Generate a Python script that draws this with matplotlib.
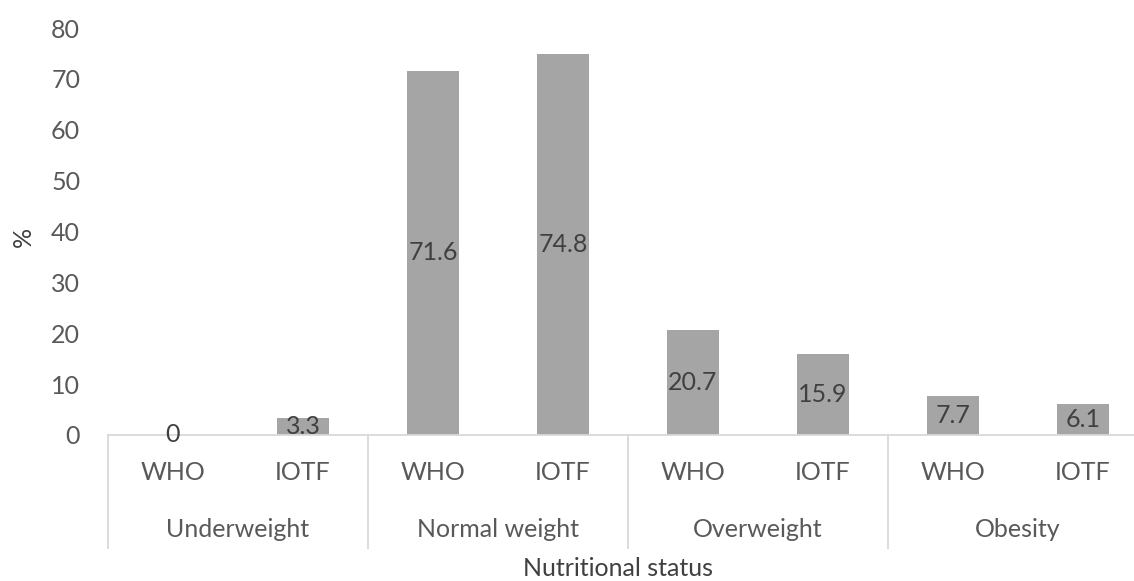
import numpy as np
from matplotlib import pyplot as plt
import matplotlib.transforms as mtransforms

groups = ["Underweight", "Normal weight", "Overweight", "Obesity"]
refs = ["WHO", "IOTF"]
values = [0, 3.3, 71.6, 74.8, 20.7, 15.9, 7.7, 6.1]
value_labels = ["0", "3.3", "71.6", "74.8", "20.7", "15.9", "7.7", "6.1"]
yticks = [0, 10, 20, 30, 40, 50, 60, 70, 80]

plt.rcParams['font.family'] = ['Lato', 'DejaVu Sans']
FS = 18

fig = plt.figure(figsize=(11.34, 5.81), dpi=100)
# plot area runs a bit past the right edge, like the cropped original
ax = fig.add_axes([108 / 1134, 146 / 581, 1040 / 1134, 407 / 581])

x = np.arange(len(values))
ax.bar(x, values, width=0.40, color="#A5A5A5", zorder=2)
for xi, v, lab in zip(x, values, value_labels):
    ax.text(xi, v / 2, lab, ha="center", va="center", fontsize=FS,
            color="#404040", zorder=3)

ax.set_xlim(-0.5, len(values) - 0.5)
ax.set_ylim(0, 80)
ax.set_yticks(yticks)
ax.set_yticklabels([str(t) for t in yticks], fontsize=FS, color="#595959")
ax.tick_params(axis="y", length=0, pad=20)
ax.set_xticks([])
for s in ["top", "right", "left"]:
    ax.spines[s].set_visible(False)
ax.spines["bottom"].set_color("#D9D9D9")
ax.spines["bottom"].set_linewidth(1.3)

trans = mtransforms.blended_transform_factory(ax.transData, ax.transAxes)
# first level: WHO / IOTF
for xi in x:
    ax.text(xi, -0.093, refs[xi % 2], transform=trans, ha="center",
            va="center", fontsize=FS, color="#595959")
# second level: nutritional status groups
for gi, g in enumerate(groups):
    ax.text(gi * 2 + 0.5, -0.233, g, transform=trans, ha="center",
            va="center", fontsize=FS, color="#595959")
# group separators
for sx in np.arange(-0.5, len(values), 2):
    ax.plot([sx, sx], [0, -0.278], transform=trans, color="#D9D9D9",
            lw=1.3, clip_on=False)

fig.text(618 / 1134, 1 - 568 / 581, "Nutritional status", ha="center",
         va="center", fontsize=FS, color="#404040")
fig.text(23 / 1134, 1 - 237 / 581, "%", rotation=90, ha="center",
         va="center", fontsize=FS, color="#404040")

fig.savefig("out.png", dpi=100)
